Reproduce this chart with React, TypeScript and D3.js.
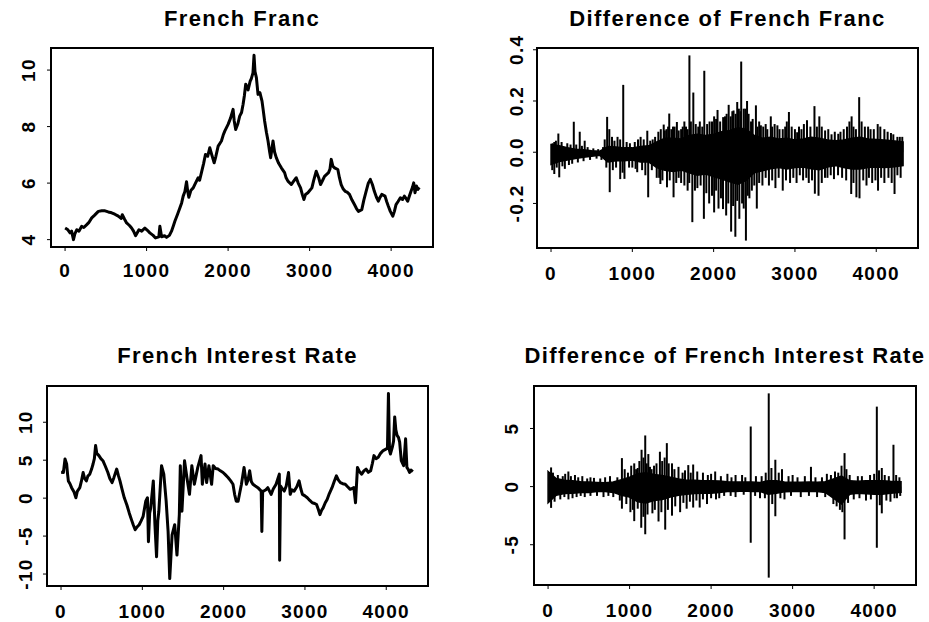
import React from 'react';
import * as d3 from 'd3';

const N = 4340;
const xTicks = [0, 1000, 2000, 3000, 4000];

// French Franc level (time, value)
const francLevel: [number, number][] = [
  [1, 4.41], [30, 4.36], [61, 4.24], [80, 4.3], [103, 4.0], [120, 4.2], [143, 4.35], [170, 4.3], [204, 4.47],
  [230, 4.43], [266, 4.53], [290, 4.6], [327, 4.77], [360, 4.86], [408, 5.0], [450, 5.02], [490, 5.02],
  [530, 4.98], [571, 4.95], [610, 4.9], [653, 4.83], [690, 4.75], [702, 4.88], [730, 4.72], [755, 4.59],
  [790, 4.5], [816, 4.41], [840, 4.3], [865, 4.14], [906, 4.35], [940, 4.3], [979, 4.41], [1010, 4.33],
  [1040, 4.24], [1080, 4.15], [1110, 4.06], [1150, 4.1], [1163, 4.47], [1184, 4.1], [1220, 4.14], [1245, 4.08],
  [1280, 4.15], [1306, 4.3], [1330, 4.5], [1347, 4.65], [1380, 4.9], [1408, 5.12], [1430, 5.3], [1449, 5.54],
  [1470, 5.7], [1490, 6.05], [1505, 5.7], [1518, 5.5], [1545, 5.75], [1572, 5.83], [1600, 6.0], [1633, 6.19],
  [1650, 6.1], [1673, 6.37], [1700, 6.7], [1722, 7.01], [1750, 6.95], [1775, 7.25], [1800, 7.0], [1829, 6.72],
  [1850, 6.95], [1878, 7.31], [1918, 7.49], [1940, 7.7], [1959, 7.84], [2000, 8.08], [2030, 8.3], [2061, 8.61],
  [2075, 8.2], [2093, 7.9], [2120, 8.1], [2142, 8.37], [2165, 8.5], [2184, 8.79], [2200, 9.1], [2216, 9.5],
  [2245, 9.3], [2270, 9.6], [2285, 9.7], [2305, 9.9], [2318, 10.52], [2330, 9.95], [2347, 9.73], [2367, 9.14],
  [2390, 9.2], [2416, 8.9], [2430, 8.6], [2448, 8.2], [2470, 7.8], [2490, 7.49], [2510, 7.1], [2522, 6.9],
  [2551, 7.49], [2570, 7.1], [2591, 6.9], [2620, 6.7], [2653, 6.54], [2693, 6.37], [2710, 6.2], [2734, 6.07],
  [2775, 5.95], [2800, 6.05], [2836, 6.19], [2860, 6.0], [2889, 5.83], [2910, 5.6], [2930, 5.42], [2950, 5.6],
  [2979, 5.66], [3028, 5.83], [3050, 6.1], [3081, 6.42], [3110, 6.2], [3134, 5.95], [3160, 6.1], [3183, 6.24],
  [3232, 6.37], [3250, 6.5], [3265, 6.84], [3285, 6.6], [3306, 6.54], [3346, 6.48], [3365, 6.2], [3387, 5.95],
  [3410, 5.8], [3436, 5.71], [3460, 5.68], [3489, 5.6], [3520, 5.4], [3550, 5.24], [3575, 5.1], [3599, 5.0],
  [3640, 5.06], [3665, 5.4], [3693, 5.71], [3720, 6.0], [3745, 6.13], [3770, 5.95], [3794, 5.71], [3820, 5.5],
  [3843, 5.36], [3865, 5.5], [3885, 5.6], [3925, 5.54], [3945, 5.35], [3966, 5.18], [3990, 5.0], [4020, 4.83],
  [4040, 5.0], [4060, 5.24], [4085, 5.35], [4113, 5.48], [4140, 5.42], [4162, 5.54], [4185, 5.45], [4203, 5.36],
  [4225, 5.55], [4244, 5.71], [4262, 5.85], [4277, 6.01], [4293, 5.66], [4310, 5.9], [4330, 5.78], [4345, 5.85],
];
const francTicks = [4, 6, 8, 10];

// French interest rate level (time, value)
const rateLevel: [number, number][] = [
  [1, 3.4], [29, 3.38], [49, 5.16], [69, 4.5], [80, 3.2], [90, 2.27], [110, 1.9], [130, 1.38], [160, 0.8],
  [183, 0.05], [200, 0.9], [231, 1.38], [250, 2.2], [272, 3.38], [290, 2.6], [312, 2.27], [330, 2.9], [353, 3.16],
  [375, 3.8], [394, 4.5], [410, 5.2], [425, 6.93], [440, 5.9], [466, 5.6], [490, 5.2], [515, 4.93], [545, 4.2],
  [576, 3.38], [600, 2.6], [628, 2.05], [650, 2.7], [685, 3.83], [705, 3.0], [725, 2.27], [750, 1.2], [778, 0.05],
  [810, -0.9], [839, -1.95], [865, -2.8], [888, -3.5], [912, -4.17], [935, -3.8], [961, -3.5], [985, -3.0],
  [1010, -2.4], [1042, -0.4], [1063, 0.05], [1075, -5.73], [1090, -2.0], [1103, -1.28], [1135, 2.27], [1155, -3.5],
  [1175, -7.73], [1190, -3.0], [1203, -1.73], [1236, 4.27], [1264, 3.16], [1293, -0.4], [1317, -4.4],
  [1337, -10.6], [1366, -4.84], [1398, -3.5], [1426, -7.5], [1455, -2.17], [1467, 4.27], [1487, -1.73],
  [1519, 4.93], [1548, 2.72], [1580, 0.5], [1609, 4.27], [1640, 1.83], [1682, 4.05], [1722, 5.6], [1738, 1.83],
  [1771, 4.5], [1791, 2.05], [1819, 4.27], [1852, 1.83], [1872, 4.27], [1900, 3.9], [1932, 3.83], [1960, 3.6],
  [1993, 3.38], [2020, 3.1], [2054, 2.72], [2085, 2.3], [2115, 1.83], [2135, 0.5], [2155, -0.4], [2178, -0.4],
  [2200, 0.8], [2219, 1.83], [2251, 4.05], [2280, 1.83], [2300, 2.4], [2320, 3.6], [2340, 2.2], [2360, 1.83],
  [2390, 1.6], [2421, 1.38], [2462, 0.93], [2470, -4.4], [2480, 0.9], [2494, 0.93], [2520, 1.1], [2543, 1.38],
  [2584, 0.5], [2610, 1.2], [2645, 1.83], [2685, 3.16], [2689, -8.17], [2700, 1.6], [2713, 1.38], [2746, 0.93],
  [2770, 1.6], [2798, 3.38], [2819, 0.5], [2840, 1.1], [2867, 0.93], [2900, 1.5], [2928, 2.27], [2950, 1.2],
  [2969, 0.5], [3000, 0.3], [3029, 0.05], [3060, -0.3], [3090, -0.61], [3120, -0.7], [3143, -0.84],
  [3165, -1.5], [3184, -2.17], [3205, -1.6], [3224, -1.28], [3250, -0.6], [3273, -0.17], [3300, 0.6],
  [3333, 1.38], [3360, 2.2], [3387, 2.93], [3410, 2.4], [3436, 2.05], [3465, 1.9], [3496, 1.83], [3525, 1.5],
  [3557, 1.16], [3601, 1.38], [3622, -0.61], [3646, 4.05], [3670, 3.5], [3698, 3.16], [3725, 3.6], [3752, 3.83],
  [3780, 3.4], [3808, 3.6], [3830, 4.6], [3849, 5.6], [3875, 5.2], [3902, 5.38], [3930, 5.9], [3962, 6.27],
  [4002, 6.49], [4015, 6.6], [4027, 13.8], [4040, 6.3], [4051, 5.82], [4075, 6.72], [4090, 7.5], [4104, 10.7],
  [4118, 9.0], [4133, 8.27], [4150, 8.0], [4165, 7.38], [4185, 4.93], [4214, 4.27], [4238, 7.82], [4254, 4.05],
  [4270, 3.8], [4287, 3.38], [4305, 3.7], [4327, 3.5],
];
const rateTicks = [-10, -5, 0, 5, 10];

// Difference of French Franc: core band (every 100 steps) and spikes
const bandTime = [0, 100, 200, 300, 400, 500, 600, 700, 800, 900, 1000, 1100, 1200, 1300, 1400, 1500, 1600, 1700,
  1800, 1900, 2000, 2100, 2200, 2300, 2400, 2500, 2600, 2700, 2800, 2900, 3000, 3100, 3200, 3300, 3400, 3500,
  3600, 3700, 3800, 3900, 4000, 4100, 4200, 4330];
const francDiffHigh = [0.03, 0.025, 0.018, 0.012, 0.01, 0.006, 0.004, 0.022, 0.02, 0.017, 0.017, 0.022, 0.025,
  0.04, 0.055, 0.055, 0.052, 0.065, 0.07, 0.065, 0.07, 0.08, 0.085, 0.095, 0.09, 0.065, 0.055, 0.058, 0.052,
  0.055, 0.048, 0.052, 0.058, 0.055, 0.048, 0.045, 0.048, 0.055, 0.058, 0.052, 0.05, 0.048, 0.045, 0.04];
const francDiffLow = [-0.048, -0.036, -0.03, -0.025, -0.02, -0.016, -0.012, -0.038, -0.033, -0.033, -0.03,
  -0.038, -0.038, -0.06, -0.07, -0.075, -0.07, -0.08, -0.09, -0.085, -0.095, -0.105, -0.115, -0.125, -0.11,
  -0.08, -0.072, -0.065, -0.06, -0.065, -0.06, -0.058, -0.065, -0.068, -0.058, -0.052, -0.06, -0.065, -0.065,
  -0.06, -0.058, -0.06, -0.058, -0.052];
const francDiffSpikes: [number, number][] = [
  // larger spikes
  [40, 0.04], [90, 0.073], [280, 0.119], [353, 0.08], [414, 0.045], [690, 0.138], [717, 0.09], [818, 0.06],
  [888, 0.263], [1102, 0.06], [1184, 0.084], [1250, 0.05], [1386, 0.108], [1420, 0.09], [1454, 0.151], [1500, 0.1],
  [1548, 0.118], [1600, 0.09], [1660, 0.1], [1702, 0.378], [1750, 0.233], [1811, 0.1], [1885, 0.318], [1950, 0.12],
  [2006, 0.14], [2048, 0.165], [2117, 0.137], [2185, 0.185], [2245, 0.163], [2290, 0.196], [2339, 0.354],
  [2370, 0.17], [2411, 0.2], [2460, 0.12], [2520, 0.183], [2581, 0.105], [2640, 0.11], [2703, 0.14], [2784, 0.105],
  [2850, 0.09], [2926, 0.157], [3027, 0.078], [3080, 0.09], [3148, 0.125], [3240, 0.18], [3300, 0.14],
  [3371, 0.085], [3450, 0.07], [3533, 0.072], [3600, 0.09], [3697, 0.14], [3750, 0.09], [3790, 0.215],
  [3860, 0.1], [3930, 0.09], [4018, 0.11], [4100, 0.09], [4181, 0.075], [4260, 0.06],
  [40, -0.085], [101, -0.098], [170, -0.065], [480, -0.03], [722, -0.156], [851, -0.105], [903, -0.104],
  [1000, -0.06], [1060, -0.078], [1195, -0.176], [1300, -0.1], [1345, -0.124], [1426, -0.137], [1507, -0.176],
  [1600, -0.12], [1680, -0.15], [1738, -0.273], [1800, -0.14], [1880, -0.26], [1945, -0.2], [2006, -0.235],
  [2060, -0.22], [2115, -0.222], [2154, -0.247], [2215, -0.31], [2267, -0.33], [2316, -0.26], [2350, -0.2],
  [2397, -0.345], [2440, -0.18], [2531, -0.22], [2600, -0.13], [2680, -0.13], [2760, -0.14], [2850, -0.15],
  [2940, -0.12], [3020, -0.12], [3100, -0.11], [3170, -0.12], [3245, -0.162], [3290, -0.17], [3400, -0.1],
  [3480, -0.105], [3580, -0.1], [3692, -0.163], [3756, -0.176], [3794, -0.18], [3880, -0.13], [3950, -0.12],
  [4022, -0.15], [4100, -0.12], [4225, -0.163], [4300, -0.1],
  // smaller spikes along the band edges
  [20, 0.035], [60, 0.045], [130, 0.04], [200, 0.035], [240, 0.03], [310, 0.03], [380, 0.025], [450, 0.02],
  [520, 0.015], [580, 0.012], [640, 0.02], [660, 0.05], [750, 0.06], [780, 0.045], [850, 0.05], [930, 0.04],
  [970, 0.035], [1030, 0.04], [1070, 0.05], [1140, 0.05], [1220, 0.045], [1280, 0.06], [1320, 0.08], [1350, 0.09],
  [1400, 0.085], [1440, 0.1], [1480, 0.09], [1520, 0.1], [1570, 0.085], [1620, 0.1], [1640, 0.12], [1680, 0.09],
  [1720, 0.12], [1780, 0.11], [1830, 0.12], [1860, 0.1], [1920, 0.11], [1980, 0.12], [2030, 0.13], [2080, 0.12],
  [2140, 0.14], [2160, 0.15], [2210, 0.14], [2230, 0.16], [2270, 0.15], [2310, 0.17], [2330, 0.16], [2390, 0.17],
  [2430, 0.15], [2480, 0.13], [2540, 0.1], [2560, 0.12], [2610, 0.1], [2660, 0.09], [2720, 0.1], [2750, 0.11],
  [2810, 0.09], [2880, 0.1], [2900, 0.12], [2960, 0.1], [3000, 0.09], [3050, 0.1], [3110, 0.11], [3190, 0.1],
  [3270, 0.1], [3330, 0.1], [3410, 0.09], [3490, 0.08], [3560, 0.08], [3640, 0.1], [3670, 0.12], [3720, 0.1],
  [3820, 0.12], [3900, 0.1], [3970, 0.09], [4050, 0.1], [4140, 0.08], [4210, 0.07], [4290, 0.06], [4320, 0.06],
  [15, -0.07], [70, -0.06], [140, -0.055], [220, -0.05], [260, -0.045], [330, -0.04], [400, -0.035], [560, -0.025],
  [620, -0.03], [680, -0.06], [760, -0.07], [800, -0.06], [880, -0.08], [960, -0.06], [1040, -0.065], [1120, -0.07],
  [1160, -0.09], [1240, -0.07], [1330, -0.1], [1370, -0.11], [1460, -0.11], [1540, -0.12], [1570, -0.1],
  [1640, -0.13], [1700, -0.12], [1770, -0.15], [1840, -0.13], [1910, -0.16], [1980, -0.17], [2030, -0.15],
  [2090, -0.18], [2180, -0.2], [2240, -0.21], [2290, -0.19], [2370, -0.22], [2420, -0.17], [2470, -0.15],
  [2500, -0.13], [2560, -0.12], [2640, -0.1], [2720, -0.11], [2800, -0.1], [2890, -0.11], [2980, -0.1],
  [3060, -0.09], [3140, -0.1], [3210, -0.11], [3330, -0.12], [3370, -0.1], [3440, -0.09], [3530, -0.09],
  [3630, -0.11], [3720, -0.12], [3840, -0.11], [3910, -0.1], [3990, -0.11], [4060, -0.1], [4150, -0.1],
  [4190, -0.12], [4260, -0.09],
];
const francDiffTicks = [-0.2, 0, 0.2, 0.4];

// Difference of French interest rate: core band and spikes
const rateDiffHigh = [1.3, 0.7, 0.55, 0.5, 0.42, 0.4, 0.36, 0.33, 0.4, 0.6, 0.8, 1.1, 1.2, 1.05, 0.95, 0.8, 0.65,
  0.55, 0.55, 0.5, 0.5, 0.48, 0.42, 0.4, 0.4, 0.4, 0.35, 0.5, 0.5, 0.4, 0.38, 0.38, 0.4, 0.38, 0.42, 0.65, 0.9,
  0.5, 0.45, 0.5, 0.5, 0.5, 0.45, 0.42];
const rateDiffLow = [-1.4, -0.75, -0.6, -0.58, -0.5, -0.5, -0.42, -0.42, -0.5, -0.75, -0.9, -1.3, -1.4, -1.2,
  -1.1, -0.9, -0.75, -0.65, -0.6, -0.58, -0.58, -0.5, -0.42, -0.42, -0.38, -0.42, -0.42, -0.65, -0.58, -0.45,
  -0.42, -0.42, -0.42, -0.42, -0.5, -1.0, -1.5, -0.65, -0.58, -0.62, -0.65, -0.65, -0.58, -0.5];
const rateDiffSpikes: [number, number][] = [
  [37, 1.65], [120, 1.0], [249, 1.3], [330, 1.0], [420, 0.9], [563, 0.75], [700, 0.8], [906, 2.45], [980, 1.2],
  [1057, 2.0], [1100, 1.6], [1147, 3.17], [1192, 4.4], [1250, 1.7], [1300, 1.8], [1372, 3.0], [1457, 3.74],
  [1520, 2.0], [1600, 1.7], [1720, 1.85], [1780, 1.9], [1900, 1.2], [2050, 1.3], [2200, 1.1], [2380, 1.0],
  [2486, 5.17], [2620, 0.9], [2707, 8.02], [2788, 2.31], [2870, 1.5], [3000, 1.0], [3225, 1.7], [3420, 1.1],
  [3560, 1.2], [3637, 2.88], [3800, 0.9], [3950, 1.0], [4033, 6.88], [4094, 1.6], [4180, 0.9], [4237, 3.6],
  [37, -1.83], [150, -1.1], [300, -1.0], [450, -0.9], [600, -0.8], [800, -0.9], [906, -1.9], [1010, -2.2],
  [1057, -2.97], [1143, -3.54], [1192, -4.1], [1280, -2.3], [1355, -3.0], [1437, -3.7], [1520, -2.5],
  [1620, -2.2], [1700, -1.9], [1780, -1.8], [1860, -1.8], [1950, -1.5], [2100, -1.0], [2300, -0.9],
  [2486, -4.83], [2600, -1.0], [2707, -7.83], [2788, -2.55], [2900, -1.1], [3100, -0.9], [3300, -0.9],
  [3500, -1.5], [3580, -2.0], [3637, -4.54], [3750, -1.1], [3900, -1.2], [4033, -5.26], [4094, -2.3],
  [4200, -1.3], [4280, -1.0],
  // smaller spikes along the band edges
  [60, 1.2], [180, 0.9], [210, 1.1], [280, 0.9], [370, 0.8], [480, 0.7], [520, 0.8], [640, 0.7], [760, 0.9],
  [850, 0.8], [940, 1.5], [1020, 1.8], [1080, 1.5], [1120, 2.2], [1170, 2.5], [1210, 2.0], [1230, 2.8],
  [1270, 1.5], [1330, 2.0], [1400, 2.2], [1430, 2.5], [1480, 2.0], [1550, 1.5], [1650, 1.2], [1680, 1.4],
  [1750, 1.2], [1830, 1.3], [1960, 1.0], [2000, 1.1], [2120, 0.9], [2250, 0.8], [2300, 1.0], [2420, 0.8],
  [2550, 0.9], [2670, 1.2], [2740, 1.6], [2830, 1.2], [2950, 0.9], [3060, 0.8], [3150, 0.9], [3280, 0.8],
  [3360, 0.8], [3470, 1.0], [3520, 1.3], [3600, 1.8], [3660, 1.5], [3700, 1.0], [3850, 0.9], [4000, 1.1],
  [4060, 1.4], [4130, 1.0], [4270, 1.0], [4310, 0.8],
  [80, -1.3], [200, -0.9], [250, -1.1], [350, -0.9], [400, -0.8], [520, -0.8], [680, -0.9], [740, -0.8],
  [880, -1.2], [960, -1.5], [1040, -2.0], [1100, -1.9], [1170, -2.6], [1220, -2.4], [1310, -2.0], [1390, -2.2],
  [1470, -2.0], [1560, -1.7], [1660, -1.4], [1740, -1.3], [1820, -1.2], [1900, -1.1], [2000, -1.0],
  [2060, -1.1], [2160, -0.8], [2240, -0.8], [2400, -0.7], [2540, -0.8], [2660, -1.0], [2750, -1.5], [2850, -1.0],
  [2980, -0.8], [3200, -0.8], [3400, -0.9], [3540, -1.7], [3610, -2.2], [3680, -1.4], [3820, -1.0], [3960, -1.1],
  [4070, -1.6], [4150, -1.2], [4250, -1.0], [4320, -0.8],
];
const rateDiffTicks = [-5, 0, 5];

type Box = { x0: number; x1: number; y0: number; y1: number };

const FONT = '"Liberation Sans", Arial, Helvetica, sans-serif';

function rPad(lo: number, hi: number): [number, number] {
  const r = hi - lo;
  return [lo - 0.04 * r, hi + 0.04 * r];
}

function fmtTick(v: number, decimals: number) {
  return decimals > 0 ? v.toFixed(decimals) : String(v);
}

interface PanelProps {
  box: Box;
  title: string;
  titleY: number;
  yDomain: [number, number];
  yTicks: number[];
  decimals: number;
  yLabelX: number;
  xLabelY: number;
  level?: [number, number][];
  bandHigh?: number[];
  bandLow?: number[];
  spikes?: [number, number][];
}

function Panel(p: PanelProps) {
  const { box } = p;
  const xs = d3.scaleLinear().domain(rPad(1, N)).range([box.x0, box.x1]);
  const ys = d3.scaleLinear().domain(p.yDomain).range([box.y1, box.y0]);
  const cx = (box.x0 + box.x1) / 2;
  const line = d3.line<[number, number]>().x(d => xs(d[0])).y(d => ys(d[1]));
  let bandPath: string | null = null;
  if (p.bandHigh && p.bandLow) {
    const pts = bandTime.map((t, i) => ({ t, hi: p.bandHigh![i], lo: p.bandLow![i] }));
    bandPath = d3.area<{ t: number; hi: number; lo: number }>()
      .x(d => xs(d.t)).y0(d => ys(d.lo)).y1(d => ys(d.hi))(pts);
  }
  return (
    <g>
      <text x={cx} y={p.titleY} textAnchor="middle" fontFamily={FONT} fontWeight="bold" fontSize={22}
        letterSpacing={1.4}>{p.title}</text>
      {p.level && (
        <path d={line(p.level) || ''} fill="none" stroke="#000" strokeWidth={3} strokeLinejoin="round" />
      )}
      {bandPath && <path d={bandPath} fill="#000" stroke="#000" strokeWidth={1.5} />}
      {p.spikes && p.spikes.map((s, i) => (
        <line key={i} x1={xs(s[0])} x2={xs(s[0])} y1={ys(0)} y2={ys(s[1])} stroke="#000" strokeWidth={2} />
      ))}
      <rect x={box.x0} y={box.y0} width={box.x1 - box.x0} height={box.y1 - box.y0} fill="none" stroke="#000"
        strokeWidth={2} />
      {xTicks.map(t => (
        <g key={'x' + t}>
          <line x1={xs(t)} x2={xs(t)} y1={box.y1} y2={box.y1 + 4} stroke="#000" strokeWidth={1} />
          <text x={xs(t)} y={p.xLabelY} textAnchor="middle" fontFamily={FONT} fontWeight="bold" fontSize={19}
            letterSpacing={1.3}>{String(t)}</text>
        </g>
      ))}
      {p.yTicks.map(v => (
        <g key={'y' + v}>
          <line x1={box.x0 - 4} x2={box.x0} y1={ys(v)} y2={ys(v)} stroke="#000" strokeWidth={1} />
          <text transform={`translate(${p.yLabelX},${ys(v)}) rotate(-90)`} textAnchor="middle" fontFamily={FONT}
            fontWeight="bold" fontSize={19} letterSpacing={1.3}>{fmtTick(v, p.decimals)}</text>
        </g>
      ))}
    </g>
  );
}

function extentOf(data: [number, number][]): [number, number] {
  const e = d3.extent(data, d => d[1]) as [number, number];
  return rPad(e[0], e[1]);
}

export default function App() {
  return (
    <svg width={929} height={622} style={{ position: 'absolute', left: 0, top: 0, background: '#fff' }}>
      <rect x={0} y={0} width={929} height={622} fill="#fff" />
      <Panel box={{ x0: 51, x1: 433, y0: 48, y1: 247 }} title="French Franc" titleY={26}
        yDomain={extentOf(francLevel)} yTicks={francTicks} decimals={0} yLabelX={35} xLabelY={277}
        level={francLevel} />
      <Panel box={{ x0: 537, x1: 918, y0: 48, y1: 248 }} title="Difference of French Franc" titleY={26}
        yDomain={extentOf(francDiffSpikes)} yTicks={francDiffTicks} decimals={1} yLabelX={523} xLabelY={280}
        bandHigh={francDiffHigh} bandLow={francDiffLow} spikes={francDiffSpikes} />
      <Panel box={{ x0: 47, x1: 428, y0: 386, y1: 586 }} title="French Interest Rate" titleY={363}
        yDomain={extentOf(rateLevel)} yTicks={rateTicks} decimals={0} yLabelX={32} xLabelY={618}
        level={rateLevel} />
      <Panel box={{ x0: 534, x1: 916, y0: 386, y1: 585 }} title="Difference of French Interest Rate" titleY={363}
        yDomain={extentOf(rateDiffSpikes)} yTicks={rateDiffTicks} decimals={0} yLabelX={518} xLabelY={617}
        bandHigh={rateDiffHigh} bandLow={rateDiffLow} spikes={rateDiffSpikes} />
    </svg>
  );
}
